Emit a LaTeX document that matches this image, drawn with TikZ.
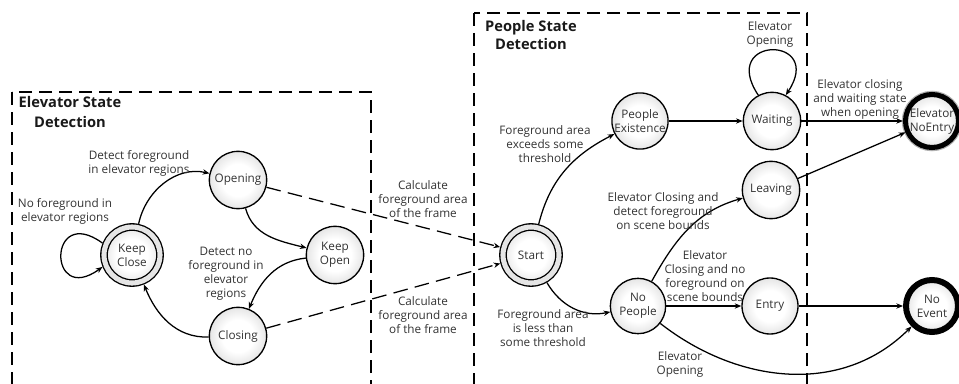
\documentclass[tikz,border=0pt]{standalone}
\usepackage{fontspec}
\setmainfont{Open Sans}
\usetikzlibrary{arrows.meta}
\pgfdeclareradialshading{statefill}{\pgfpoint{0bp}{0bp}}{%
  color(0bp)=(white); color(14bp)=(white); color(25bp)=(black!10); color(50bp)=(black!10)}
\begin{document}
\begin{tikzpicture}[x=0.75pt,y=0.75pt,
  txt/.style={font=\fontsize{8.8}{10.5}\selectfont, text=black!80, align=center, inner sep=0pt},
  ttl/.style={font=\fontsize{11}{15}\selectfont\bfseries, text=black!90, align=center, inner sep=0pt},
  state/.style={circle, draw, line width=1pt, inner sep=0pt, minimum size=43pt,
    shading=statefill, shade, txt},
  startstate/.style={state, double=black!10, double distance=3.8pt, outer sep=2.9pt, minimum size=42pt},
  endstate/.style={state, minimum size=39.75pt, line width=3.8pt},
  trans/.style={line width=0.95pt, -{Stealth[length=5pt,width=4pt]}},
  dashtrans/.style={trans, dash pattern=on 11pt off 5.5pt},
  region/.style={draw, line width=1.1pt, dash pattern=on 10pt off 5pt}
]
\useasboundingbox (0,0) rectangle (959,383);

% detection regions
\draw[region] (12,291) rectangle (371,-20);
\draw[region] (474,370) rectangle (807,-20);
\node[ttl] (T1) at (70,271) {Elevator State\\Detection};
\node[ttl, font=\fontsize{11}{13}\selectfont\bfseries] (T2) at (531,348) {People State\\Detection};

% elevator states
\node[startstate] (KC) at (132,128) {Keep\\Close};
\node[state] (OP) at (238,203) {Opening};
\node[state] (KO) at (335,128) {Keep\\Open};
\node[state] (CL) at (238,47) {Closing};

% people states
\node[startstate] (ST) at (531,128) {Start};
\node[state, minimum size=41.5pt] (PE) at (640,262) {People\\Existence};
\node[state, minimum size=41.5pt] (NP) at (638,77) {No\\People};
\node[state] (WT) at (772,262) {Waiting};
\node[state] (LV) at (771,193) {Leaving};
\node[state, minimum size=42pt] (EN) at (770,77) {Entry};
\node[endstate, preaction={draw=black!30, line width=5.6pt}] (NE) at (932,262) {Elevator\\NoEntry};
\node[endstate, line width=4.5pt, minimum size=39pt] (NV) at (932,77) {No\\Event};

% elevator transitions
\draw[trans] (KC.158) .. controls +(-55,40) and +(-55,-40) .. (KC.202);
\node[txt] (L1) at (65,172) {No foreground in\\elevator regions};
\draw[trans] (KC) to[out=78, in=167] (OP);
\node[txt] (L2) at (139,220) {Detect foreground\\in elevator regions};
\draw[trans] (OP) to[out=-75, in=166] (KO);
\draw[trans] (KO) to[out=186, in=68] (CL);
\node[txt] (L3) at (226,109) {Detect no\\foreground in\\elevator\\regions};
\draw[trans] (CL) to[out=182, in=-68] (KC);

% frame area
\draw[dashtrans] (OP) -- (ST);
\draw[dashtrans] (CL) -- (ST);
\node[txt] (L4) at (423,184) {Calculate\\foreground area\\of the frame};
\node[txt] (L5) at (423,68) {Calculate\\foreground area\\of the frame};

% people transitions
\draw[trans] (ST) to[out=76, in=207] (PE);
\node[txt] (L6) at (545,239) {Foreground area\\exceeds some\\threshold};
\draw[trans] (ST) to[out=-60, in=192] (NP);
\node[txt] (L7) at (543,55) {Foreground area\\is less than\\some threshold};
\draw[trans] (PE) -- (WT);
\draw[trans] (WT.118) .. controls +(-40,60) and +(40,60) .. (WT.62);
\node[txt] (L11) at (770,349) {Elevator\\Opening};
\draw[trans] (WT) -- (NE);
\node[txt] (L12) at (860,284) {Elevator closing\\and waiting state\\when opening};
\draw[trans] (NP) to[out=61, in=196] (LV);
\node[txt] (L8) at (663,172) {Elevator Closing and\\detect foreground\\on scene bounds};
\draw[trans] (LV) -- (NE);
\draw[trans] (NP) -- (EN);
\node[txt] (L9) at (705,107) {Elevator\\Closing and no\\foreground on\\scene bounds};
\draw[trans] (EN) -- (NV);
\draw[trans] (NP) to[out=-38, in=225] (NV);
\node[txt] (L10) at (680,19) {Elevator\\Opening};
\end{tikzpicture}
\end{document}
